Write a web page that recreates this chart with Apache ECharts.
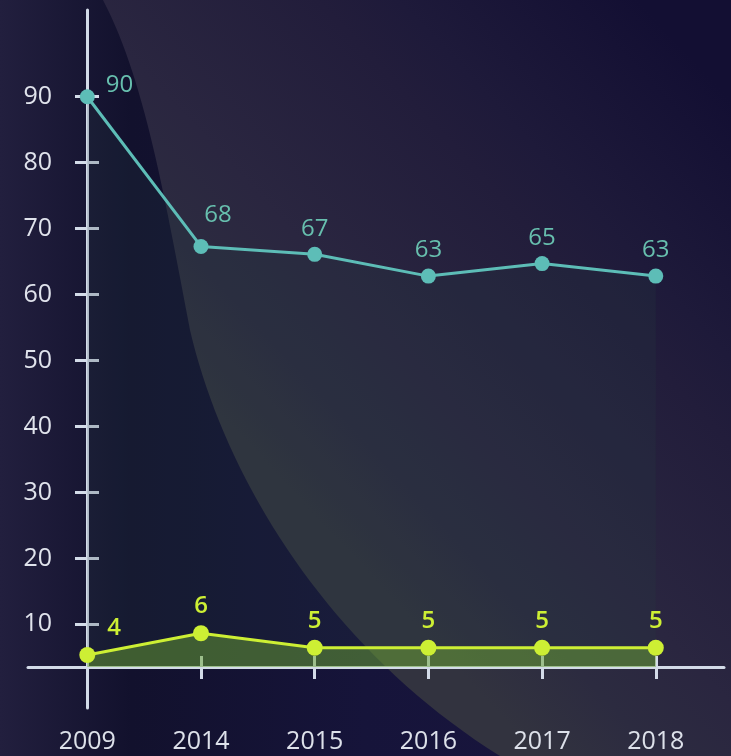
<!DOCTYPE html>
<html>
<head>
<meta charset="utf-8">
<script src="https://cdn.jsdelivr.net/npm/echarts@6/dist/echarts.min.js"></script>
<style>
    html, body { margin: 0; padding: 0; background: #16143a; }
    #chart { width: 731px; height: 756px; }
</style>
</head>
<body>
<div id="chart"></div>
<script>
// 資料
const years = ['2009', '2014', '2015', '2016', '2017', '2018']
const yTicks = [10, 20, 30, 40, 50, 60, 70, 80, 90]
// 點的位置 與顯示的標籤
const tealValues = [90, 67.3, 66.1, 62.8, 64.7, 62.8]
const tealLabels = ['90', '68', '67', '63', '65', '63']
const limeValues = [5.35, 8.65, 6.45, 6.45, 6.45, 6.45]
const limeLabels = ['4', '6', '5', '5', '5', '5']

const FONT = '"Open Sans", "DejaVu Sans", sans-serif'
const AXIS_COLOR = '#d3dbe8'
const X_MIN = -0.5215, X_MAX = 5.6
const Y_MIN = 3.53, Y_MAX = 103.15
const xIdx = years.map((_, i) => i)

// 背景曲線
const cubic = (p0, p1, p2, p3, n) => {
    const pts = []
    for (let k = 0; k <= n; k++) {
        const t = k / n, u = 1 - t
        const a = u * u * u, b = 3 * u * u * t, c = 3 * u * t * t, d = t * t * t
        pts.push([a * p0[0] + b * p1[0] + c * p2[0] + d * p3[0],
                  a * p0[1] + b * p1[1] + c * p2[1] + d * p3[1]])
    }
    return pts
}
const curvePts = cubic([103, 0], [145, 80], [165, 200], [190, 330], 30)
    .concat(cubic([190, 330], [225, 480], [330, 650], [500, 756], 40).slice(1))
    .concat([[731, 756], [731, 0]])

const chart = echarts.init(document.getElementById('chart'))

const tealData = tealValues.map((v, i) => {
    const item = { value: [i, v] }
    if (i === 0) item.label = { position: 'right', distance: 11, offset: [0, -12] }
    if (i === 1) item.label = { offset: [17, -6] }
    return item
})
const limeData = limeValues.map((v, i) => {
    const item = { value: [i, v] }
    if (i === 0) item.label = { position: 'right', distance: 12, offset: [0, -27] }
    return item
})

chart.setOption({
    backgroundColor: {
        type: 'linear', x: 0, y: 0, x2: 1, y2: 0,
        colorStops: [
            { offset: 0, color: '#221f3e' },
            { offset: 0.18, color: '#12112d' },
            { offset: 0.5, color: '#16143a' },
            { offset: 1, color: '#1a1640' }
        ]
    },
    animation: false,
    graphic: [{
        type: 'polygon',
        z: -10,
        silent: true,
        shape: { points: curvePts },
        style: {
            fill: {
                type: 'linear', x: 731, y: 100, x2: 300, y2: 500, global: true,
                colorStops: [
                    { offset: 0, color: '#130f33' },
                    { offset: 0.3, color: '#1e1a3a' },
                    { offset: 0.4, color: '#221d3b' },
                    { offset: 0.7, color: '#2a2640' },
                    { offset: 0.85, color: '#2c2b40' },
                    { offset: 1, color: '#32333f' }
                ]
            }
        }
    }],
    grid: [
        { left: 28, right: 7, top: 10, bottom: 89, outerBoundsMode: 'none' },
        { left: 28, right: 7, top: 667, bottom: 48, outerBoundsMode: 'none' }
    ],
    xAxis: [{
        type: 'value', gridIndex: 0, min: X_MIN, max: X_MAX, position: 'bottom',
        splitLine: { show: false },
        axisLine: { show: true, onZero: false, lineStyle: { color: AXIS_COLOR, width: 3 } },
        axisTick: { show: true, customValues: xIdx, length: 12, lineStyle: { color: AXIS_COLOR, width: 3 } },
        axisLabel: {
            customValues: xIdx, formatter: v => years[v] ?? '', margin: 62,
            color: '#dde1ea', fontSize: 25, fontFamily: FONT
        }
    }, {
        type: 'value', gridIndex: 0, min: X_MIN, max: X_MAX, position: 'top', offset: -657,
        splitLine: { show: false },
        axisLine: { show: false, onZero: false },
        axisTick: { show: true, customValues: xIdx, length: 11, lineStyle: { color: AXIS_COLOR, width: 3 } },
        axisLabel: { show: false }
    }, {
        type: 'value', gridIndex: 1, min: X_MIN, max: X_MAX, show: false
    }],
    yAxis: [{
        type: 'value', gridIndex: 0, min: Y_MIN, max: Y_MAX, position: 'left', offset: -59,
        splitLine: { show: false },
        axisLine: { show: true, onZero: false, lineStyle: { color: AXIS_COLOR, width: 3 } },
        axisTick: { show: true, customValues: yTicks, length: 12, lineStyle: { color: AXIS_COLOR, width: 3 } },
        axisLabel: {
            customValues: yTicks, margin: 35,
            color: '#e0e3ec', fontSize: 25, fontFamily: FONT
        }
    }, {
        type: 'value', gridIndex: 0, min: Y_MIN, max: Y_MAX, position: 'right', offset: -637,
        splitLine: { show: false },
        axisLine: { show: false, onZero: false },
        axisTick: { show: true, customValues: yTicks, length: 12, lineStyle: { color: AXIS_COLOR, width: 3 } },
        axisLabel: { show: false }
    }, {
        type: 'value', gridIndex: 1, min: 0, max: 1, position: 'left', offset: -59,
        splitLine: { show: false },
        axisLine: { show: true, onZero: false, lineStyle: { color: AXIS_COLOR, width: 3 } },
        axisTick: { show: false },
        axisLabel: { show: false }
    }],
    series: [{
        type: 'line',
        xAxisIndex: 0, yAxisIndex: 0,
        data: tealData,
        symbol: 'circle', symbolSize: 15,
        itemStyle: { color: '#5dbdb7' },
        lineStyle: { color: '#5dbdb7', width: 3 },
        areaStyle: { color: 'rgba(40,62,64,0.3)' },
        label: {
            show: true, position: 'top', distance: 6,
            formatter: p => tealLabels[p.dataIndex],
            color: '#67bfae', fontSize: 24, fontFamily: FONT
        },
        z: 3
    }, {
        type: 'line',
        xAxisIndex: 0, yAxisIndex: 0,
        data: limeData,
        symbol: 'circle', symbolSize: 16,
        itemStyle: { color: '#cdef34' },
        lineStyle: { color: '#cdef34', width: 3 },
        areaStyle: { color: 'rgba(130,200,50,0.55)' },
        label: {
            show: true, position: 'top', distance: 7,
            formatter: p => limeLabels[p.dataIndex],
            color: '#cdef34', fontSize: 24, fontWeight: 600, fontFamily: FONT
        },
        z: 4
    }]
})
</script>
</body>
</html>
